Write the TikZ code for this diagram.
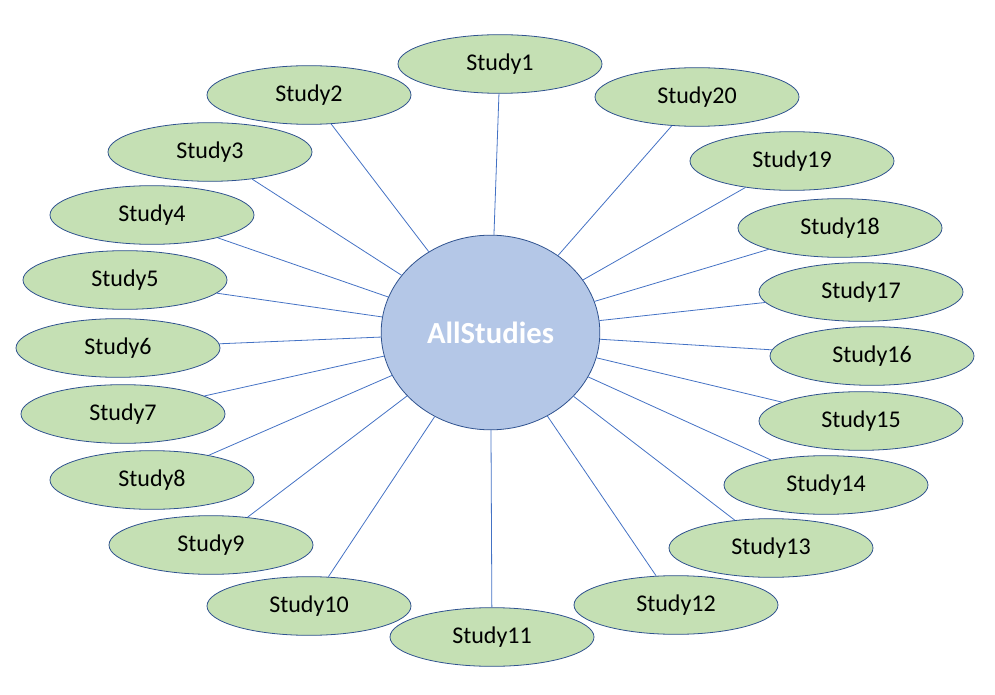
\documentclass[tikz,border=0pt]{standalone}
\usepackage{fontspec}
\setmainfont{Carlito}
\usetikzlibrary{shapes.geometric}
\definecolor{studyfill}{HTML}{C5E0B4}
\definecolor{hubfill}{HTML}{B4C7E7}
\definecolor{rimblue}{HTML}{2F528F}
\definecolor{linkblue}{HTML}{4472C4}
\begin{document}
\begin{tikzpicture}[x=.75pt,y=-.75pt,
  study/.style={ellipse,draw=rimblue,line width=.6pt,fill=studyfill,inner sep=0pt,minimum width=153pt,minimum height=44pt,font=\fontsize{18}{20}\selectfont},
  hub/.style={ellipse,draw=rimblue,line width=.6pt,fill=hubfill,inner sep=0pt,minimum width=164pt,minimum height=146pt,text=white,font=\fontsize{23}{26}\selectfont\bfseries},
  link/.style={draw=linkblue,line width=.6pt}]
\useasboundingbox (0,0) rectangle (995,695);
\node[hub] (all) at (490.5,332.5) {AllStudies};
\node[study] (s1) at (500,64) {Study1};
\node[study] (s2) at (309,95) {Study2};
\node[study] (s3) at (210,152) {Study3};
\node[study] (s4) at (152,215) {Study4};
\node[study] (s5) at (125,280) {Study5};
\node[study] (s6) at (118,348) {Study6};
\node[study] (s7) at (123,414) {Study7};
\node[study] (s8) at (152,480) {Study8};
\node[study] (s9) at (211,545) {Study9};
\node[study] (s10) at (309,606) {Study10};
\node[study] (s11) at (492,637) {Study11};
\node[study] (s12) at (676,605) {Study12};
\node[study] (s13) at (771,548) {Study13};
\node[study] (s14) at (826,485) {Study14};
\node[study] (s15) at (861,421) {Study15};
\node[study] (s16) at (872,356) {Study16};
\node[study] (s17) at (861,292) {Study17};
\node[study] (s18) at (840,228) {Study18};
\node[study] (s19) at (792,161) {Study19};
\node[study] (s20) at (697,97) {Study20};
\path[link] (all) -- (s1) (all) -- (s2) (all) -- (s3) (all) -- (s4) (all) -- (s5);
\path[link] (all) -- (s6) (all) -- (s7) (all) -- (s8) (all) -- (s9) (all) -- (s10);
\path[link] (all) -- (s11) (all) -- (s12) (all) -- (s13) (all) -- (s14) (all) -- (s15);
\path[link] (all) -- (s16) (all) -- (s17) (all) -- (s18) (all) -- (s19) (all) -- (s20);
\end{tikzpicture}
\end{document}
